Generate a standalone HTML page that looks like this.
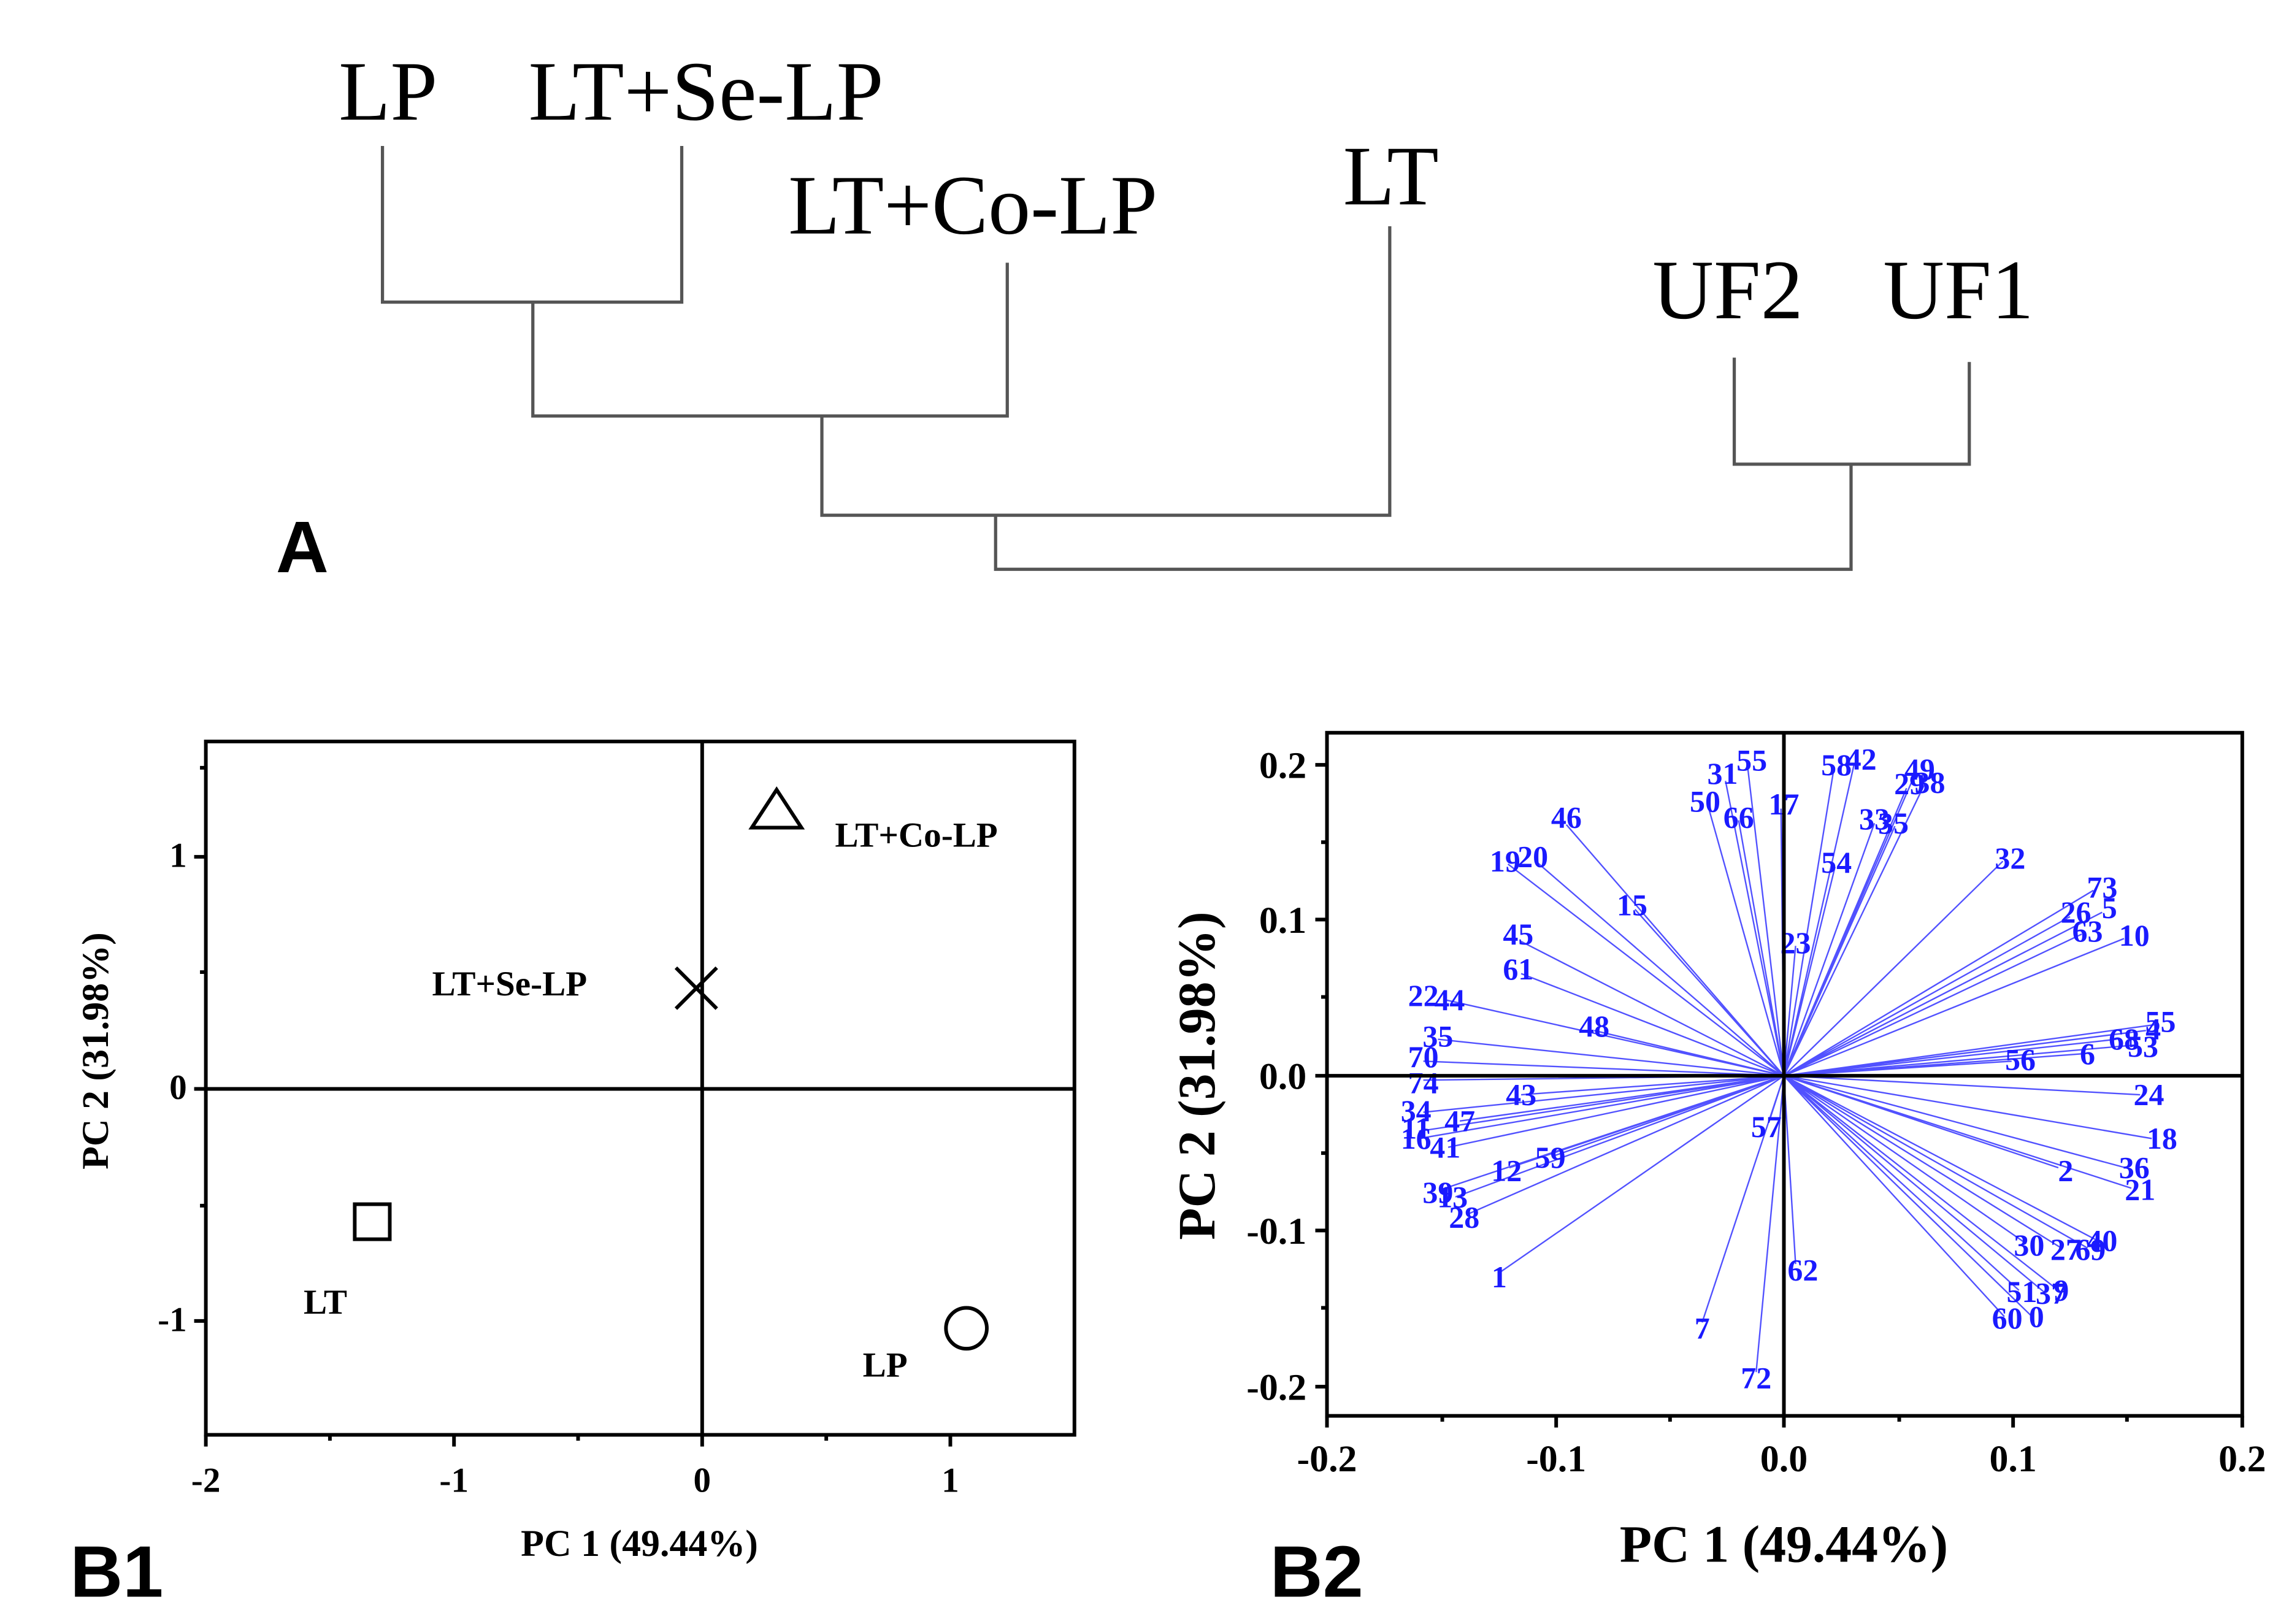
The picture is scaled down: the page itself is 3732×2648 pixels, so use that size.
<!DOCTYPE html>
<html><head><meta charset="utf-8"><style>html,body{margin:0;padding:0;background:#fff}svg{display:block}</style></head>
<body>
<svg width="3732" height="2648" viewBox="0 0 1568 1112.6" preserveAspectRatio="none" xmlns="http://www.w3.org/2000/svg">
<rect width="1568" height="1113" fill="#fff"/>
<g font-family="Liberation Serif, serif" font-size="58" fill="#000">
<text x="232" y="82">LP</text>
<text x="362" y="82">LT+Se-LP</text>
<text x="540" y="160">LT+Co-LP</text>
<text x="920" y="140">LT</text>
<text x="1132" y="218">UF2</text>
<text x="1290" y="218">UF1</text>
</g>
<g stroke="#555" stroke-width="2.2" fill="none">
<path d="M262,100V207H467V100"/>
<path d="M365,207V285H690V180"/>
<path d="M563,285V353H952V155"/>
<path d="M682,353V390H1268V318"/>
<path d="M1188,245V318H1349V248"/>
</g>
<text x="189" y="392" font-family="Liberation Sans, sans-serif" font-weight="bold" font-size="50">A</text>

<g stroke="#000" stroke-width="2.5" fill="none">
<rect x="141" y="508" width="595" height="475"/>
<line x1="141" y1="746" x2="736" y2="746"/>
<line x1="481" y1="508" x2="481" y2="983"/>
<path d="M133,587H141M133,746H141M133,905H141M137,666H141M137,826H141M137,526H141"/>
<path d="M141,983V991M311,983V991M481,983V991M651,983V991M226,983V987M396,983V987M566,983V987"/>
<polygon points="532,541 515,567 549,567"/>
<path d="M463,663L491,691M491,663L463,691"/>
<rect x="243" y="825" width="24" height="24"/>
<circle cx="662" cy="910" r="14"/>
</g>
<g font-family="Liberation Serif, serif" font-weight="bold" font-size="24" fill="#000">
<text x="572" y="580">LT+Co-LP</text>
<text x="296" y="682">LT+Se-LP</text>
<text x="208" y="900">LT</text>
<text x="591" y="943">LP</text>
<g text-anchor="end"><text x="128" y="594">1</text><text x="128" y="753">0</text><text x="128" y="912">-1</text></g>
<g text-anchor="middle"><text x="141" y="1022">-2</text><text x="311" y="1022">-1</text><text x="481" y="1022">0</text><text x="651" y="1022">1</text></g>
<text x="438" y="1066" text-anchor="middle" font-size="26">PC 1 (49.44%)</text>
<text transform="translate(74,720) rotate(-90)" text-anchor="middle" font-size="26">PC 2 (31.98%)</text>
</g>
<text x="48" y="1094" font-family="Liberation Sans, sans-serif" font-weight="bold" font-size="50">B1</text>

<g stroke="#3333ff" stroke-width="1" opacity="0.85">
<path d="M1222,737L1073,565M1222,737L1033,592M1222,737L1052,590M1222,737L1120,623M1222,737L1042,645M1222,737L1042,667M1222,737L990,685M1222,737L1092,706M1222,737L985,712M1222,737L975,727M1222,737L975,740M1222,737L1042,750M1222,737L975,762M1222,737L1000,768M1222,737L972,775M1222,737L972,780M1222,737L992,786M1222,737L1034,800M1222,737L1064,792M1222,737L987,815M1222,737L997,820M1222,737L1005,832M1222,737L1027,872M1222,737L1166,906M1222,737L1203,940M1222,737L1212,768M1222,737L1230,866M1222,737L1182,535M1222,737L1197,524M1222,737L1170,552M1222,737L1191,562M1222,737L1220,554M1222,737L1256,528M1222,737L1270,524M1222,737L1312,530M1222,737L1306,540M1222,737L1318,538M1222,737L1284,564M1222,737L1298,566M1222,737L1257,594M1222,737L1230,648M1222,737L1372,590M1222,737L1434,610M1222,737L1418,628M1222,737L1440,625M1222,737L1426,640M1222,737L1455,643M1222,737L1476,702M1222,737L1470,706M1222,737L1450,712M1222,737L1462,716M1222,737L1426,722M1222,737L1378,727M1222,737L1466,750M1222,737L1474,780M1222,737L1410,800M1222,737L1456,800M1222,737L1460,814M1222,737L1388,852M1222,737L1412,855M1222,737L1430,855M1222,737L1437,850M1222,737L1383,884M1222,737L1400,885M1222,737L1410,884M1222,737L1373,902M1222,737L1392,902"/>
</g>
<g font-family="Liberation Serif, serif" font-weight="bold" font-size="21" fill="#1a1aff" text-anchor="middle">
<text x="1073" y="567">46</text><text x="1031" y="597">19</text><text x="1050" y="594">20</text><text x="1118" y="627">15</text>
<text x="1040" y="647">45</text><text x="1040" y="671">61</text><text x="975" y="689">22</text><text x="993" y="692">44</text>
<text x="1092" y="710">48</text><text x="985" y="717">35</text><text x="975" y="731">70</text><text x="975" y="749">74</text>
<text x="1042" y="757">43</text><text x="970" y="768">34</text><text x="1000" y="775">47</text><text x="970" y="780">11</text>
<text x="970" y="787">16</text><text x="990" y="793">41</text><text x="1032" y="809">12</text><text x="1062" y="800">59</text>
<text x="985" y="824">39</text><text x="995" y="827">13</text><text x="1003" y="841">28</text><text x="1027" y="882">1</text>
<text x="1166" y="917">7</text><text x="1203" y="951">72</text><text x="1210" y="779">57</text><text x="1235" y="877">62</text>
<text x="1180" y="537">31</text><text x="1200" y="528">55</text><text x="1168" y="556">50</text><text x="1191" y="567">66</text>
<text x="1222" y="558">17</text><text x="1258" y="531">58</text><text x="1275" y="527">42</text><text x="1315" y="534">49</text>
<text x="1308" y="544">29</text><text x="1322" y="543">38</text><text x="1284" y="568">33</text><text x="1297" y="571">35</text>
<text x="1258" y="598">54</text><text x="1230" y="653">23</text><text x="1377" y="595">32</text><text x="1440" y="615">73</text>
<text x="1422" y="632">26</text><text x="1445" y="629">5</text><text x="1430" y="645">63</text><text x="1462" y="648">10</text>
<text x="1480" y="707">55</text><text x="1475" y="712">4</text><text x="1455" y="719">68</text><text x="1468" y="724">53</text>
<text x="1430" y="729">6</text><text x="1384" y="733">56</text><text x="1472" y="757">24</text><text x="1481" y="787">18</text>
<text x="1415" y="809">2</text><text x="1462" y="807">36</text><text x="1466" y="822">21</text><text x="1390" y="860">30</text>
<text x="1415" y="863">27</text><text x="1432" y="863">69</text><text x="1440" y="857">40</text><text x="1385" y="892">51</text>
<text x="1405" y="893">37</text><text x="1412" y="891">9</text><text x="1375" y="910">60</text><text x="1395" y="909">0</text>
</g>
<g stroke="#000" stroke-width="2.5" fill="none">
<rect x="909" y="502" width="627" height="468"/>
<line x1="909" y1="737" x2="1536" y2="737"/>
<line x1="1222" y1="502" x2="1222" y2="970"/>
<path d="M901,524H909M901,630H909M901,737H909M901,843H909M901,950H909M905,577H909M905,683H909M905,790H909M905,896H909"/>
<path d="M909,970V978M1066,970V978M1222,970V978M1379,970V978M1536,970V978M988,970V974M1144,970V974M1301,970V974M1457,970V974"/>
</g>
<g font-family="Liberation Serif, serif" font-weight="bold" font-size="26" fill="#000">
<g text-anchor="end"><text x="895" y="533">0.2</text><text x="895" y="639">0.1</text><text x="895" y="746">0.0</text><text x="895" y="852">-0.1</text><text x="895" y="959">-0.2</text></g>
<g text-anchor="middle"><text x="909" y="1008">-0.2</text><text x="1066" y="1008">-0.1</text><text x="1222" y="1008">0.0</text><text x="1379" y="1008">0.1</text><text x="1536" y="1008">0.2</text></g>
<text x="1222" y="1070" text-anchor="middle" font-size="36">PC 1 (49.44%)</text>
<text transform="translate(832,737) rotate(-90)" text-anchor="middle" font-size="36">PC 2 (31.98%)</text>
</g>
<text x="870" y="1094" font-family="Liberation Sans, sans-serif" font-weight="bold" font-size="50">B2</text>
</svg>
</body></html>
